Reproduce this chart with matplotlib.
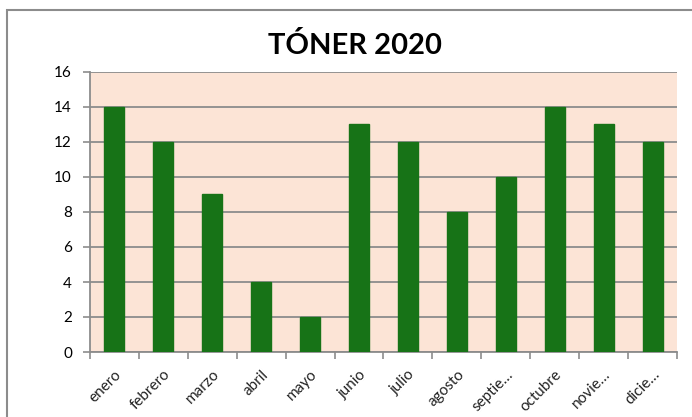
import numpy as np
import matplotlib
matplotlib.use('Agg')
from matplotlib import pyplot as plt
from matplotlib.patches import Rectangle

meses = ['enero', 'febrero', 'marzo', 'abril', 'mayo', 'junio', 'julio',
         'agosto', 'septie…', 'octubre', 'novie…', 'dicie…']
toner = [14, 12, 9, 4, 2, 13, 12, 8, 10, 14, 13, 12]
yticks = [0, 2, 4, 6, 8, 10, 12, 14, 16]

plt.rcParams['font.family'] = ['Lato', 'DejaVu Sans']

fig = plt.figure(figsize=(6.92, 4.17), dpi=100)
fig.patch.set_facecolor('white')

# outer chart frame
fig.patches.append(Rectangle((7/692, -0.1), 1.2, 1 - 10/417 + 0.1,
                             transform=fig.transFigure, fill=False,
                             edgecolor='#8c8c8c', linewidth=1.5))

ax = fig.add_axes([90/692, 1 - 352/417, (677 - 90)/692, (352 - 72)/417])
ax.set_facecolor('#fce4d6')

x = np.arange(len(meses))
ax.bar(x, toner, width=0.41, color='#177317', edgecolor='#177317', zorder=3)

ax.set_xlim(-0.5, len(meses) - 0.5)
ax.set_ylim(0, 16)
ax.set_yticks(yticks)
ax.set_yticklabels([str(v) for v in yticks], fontsize=11)
ax.yaxis.grid(True, color='#8c8c8c', linewidth=1.3, zorder=1)
ax.set_axisbelow(True)

# tick marks at category boundaries, labels at centers
ax.set_xticks(np.arange(len(meses) + 1) - 0.5)
ax.set_xticklabels([])
ax.set_xticks(x, minor=True)
ax.set_xticklabels(meses, minor=True, rotation=45, ha='right',
                   rotation_mode='anchor', fontsize=11, color='#222222')
ax.tick_params(axis='x', which='minor', length=0, pad=11)
ax.tick_params(axis='x', which='major', length=5, color='#8c8c8c', width=1.2)
ax.tick_params(axis='y', length=5, color='#8c8c8c', width=1.2, pad=8)

for s in ['top', 'right']:
    ax.spines[s].set_visible(False)
for s in ['left', 'bottom']:
    ax.spines[s].set_color('#8c8c8c')
    ax.spines[s].set_linewidth(1.3)

fig.text(355/692, 1 - 45/417, 'TÓNER 2020', ha='center', va='center',
         fontsize=21, fontweight='bold')

fig.savefig('out.png', dpi=100)
